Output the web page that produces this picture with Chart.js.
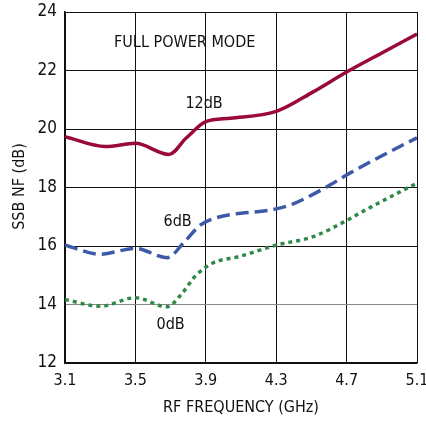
<!DOCTYPE html>
<html>
<head>
<meta charset="utf-8">
<script src="https://cdn.jsdelivr.net/npm/chart.js@4"></script>
<style>
  html, body { margin: 0; padding: 0; background: #fff; }
  #wrap { width: 426px; height: 421px; position: relative; }
</style>
</head>
<body>
<div id="wrap"><canvas id="nfChart" width="426" height="421"></canvas></div>
<script>
// RF frequency (GHz) and SSB noise figure (dB) for each gain setting
const freq12 = [3.1, 3.33, 3.5, 3.69, 3.79, 3.9, 4.04, 4.3, 4.51, 4.7, 4.9, 5.1];
const nf12 = [19.74, 19.4, 19.51, 19.13, 19.7, 20.25, 20.37, 20.6, 21.27, 21.95, 22.6, 23.25];

const freq6 = [3.1, 3.3, 3.5, 3.68, 3.78, 3.87, 3.95, 4.3, 4.4, 4.61, 4.7, 4.89, 5.1];
const nf6 = [16.03, 15.72, 15.92, 15.6, 16.15, 16.72, 16.95, 17.27, 17.45, 18.1, 18.43, 19.05, 19.7];

const freq0 = [3.1, 3.3, 3.5, 3.68, 3.76, 3.84, 3.94, 4.09, 4.3, 4.51, 4.7, 4.81, 5.1];
const nf0 = [14.17, 13.94, 14.23, 13.92, 14.34, 14.97, 15.42, 15.64, 16.03, 16.32, 16.87, 17.24, 18.15];

const xTicks = [3.1, 3.5, 3.9, 4.3, 4.7, 5.1];
const yTicks = [12, 14, 16, 18, 20, 22, 24];

const FONT = "'DejaVu Sans Condensed', 'Liberation Sans', sans-serif";

function toPoints(xs, ys) {
  return xs.map((x, i) => ({ x: x, y: ys[i] }));
}

// Curve labels drawn in data coordinates, plus the vertical axis title
const labelPlugin = {
  id: "curveLabels",
  afterDatasetsDraw(chart) {
    const { ctx, scales, chartArea } = chart;
    const labels = [
      { text: "FULL POWER MODE", x: 3.78, y: 22.94 },
      { text: "12dB", x: 3.89, y: 20.85 },
      { text: "6dB", x: 3.74, y: 16.82 },
      { text: "0dB", x: 3.7, y: 13.31 },
    ];
    ctx.save();
    ctx.fillStyle = "#111";
    ctx.font = "16px " + FONT;
    ctx.textAlign = "center";
    ctx.textBaseline = "middle";
    labels.forEach((l) => {
      ctx.fillText(l.text, scales.x.getPixelForValue(l.x), scales.y.getPixelForValue(l.y));
    });

    // y axis title
    ctx.translate(20, (chartArea.top + chartArea.bottom) / 2 - 1);
    ctx.rotate(-Math.PI / 2);
    ctx.fillText("SSB NF (dB)", 0, 0);
    ctx.restore();
  },
};

new Chart(document.getElementById("nfChart").getContext("2d"), {
  type: "line",
  data: {
    datasets: [
      {
        label: "12dB",
        data: toPoints(freq12, nf12),
        borderColor: "#9a0a36",
        borderWidth: 3.5,
        pointRadius: 0,
        cubicInterpolationMode: "monotone",
      },
      {
        label: "6dB",
        data: toPoints(freq6, nf6),
        borderColor: "#3d5aa8",
        borderWidth: 3.5,
        borderDash: [13, 6],
        pointRadius: 0,
        cubicInterpolationMode: "monotone",
      },
      {
        label: "0dB",
        data: toPoints(freq0, nf0),
        borderColor: "#2f8a4a",
        borderWidth: 3.5,
        borderDash: [4, 4],
        pointRadius: 0,
        cubicInterpolationMode: "monotone",
      },
    ],
  },
  options: {
    responsive: false,
    animation: false,
    layout: { padding: { top: 12, right: 9, left: 0, bottom: 0 } },
    plugins: {
      legend: { display: false },
      tooltip: { enabled: false },
    },
    scales: {
      x: {
        type: "linear",
        min: 3.1,
        max: 5.1,
        afterBuildTicks: (scale) => {
          scale.ticks = xTicks.map((v) => ({ value: v }));
        },
        afterFit: (scale) => {
          scale.height = 58;
          scale.paddingLeft = 0;
          scale.paddingRight = 0;
        },
        grid: { color: "#111", lineWidth: 1, drawTicks: false },
        border: { color: "#111", width: 1.5 },
        ticks: {
          color: "#111",
          padding: 8,
          maxRotation: 0,
          font: { family: FONT, size: 16 },
          callback: (v) => Number(v).toFixed(1),
        },
        title: {
          display: true,
          text: "RF FREQUENCY (GHz)",
          color: "#111",
          font: { family: FONT, size: 16 },
          padding: { top: 2 },
        },
      },
      y: {
        min: 12,
        max: 24,
        afterBuildTicks: (scale) => {
          scale.ticks = yTicks.map((v) => ({ value: v }));
        },
        afterFit: (scale) => {
          scale.width = 65;
          scale.paddingTop = 0;
          scale.paddingBottom = 0;
        },
        grid: {
          color: (c) => (c.tick && c.tick.value === 14 ? "#888" : "#111"),
          lineWidth: 1,
          drawTicks: false,
        },
        border: { color: "#111", width: 1.5 },
        ticks: {
          color: "#111",
          padding: 8,
          font: { family: FONT, size: 17 },
        },
      },
    },
  },
  plugins: [labelPlugin],
});
</script>
</body>
</html>
